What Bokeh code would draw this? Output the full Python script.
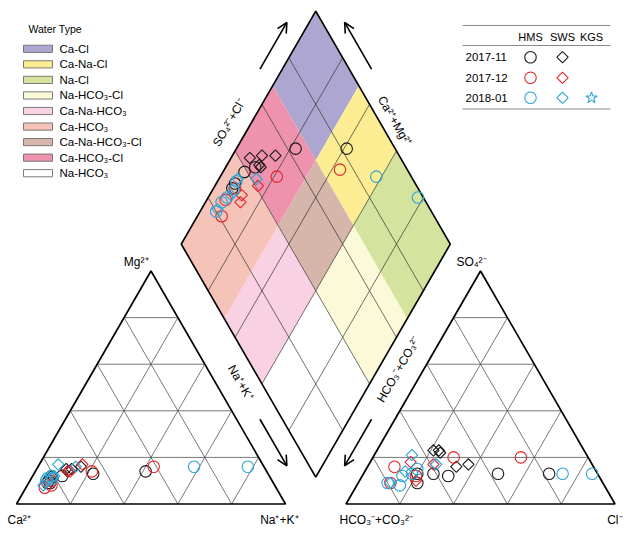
import math
from bokeh.plotting import figure
from bokeh.models import Range1d, Arrow, OpenHead, ColumnDataSource
from bokeh.core.properties import value
from bokeh.embed import file_html
from bokeh.resources import INLINE

FONT = "Liberation Sans"

# ---------------- data (meq %) ----------------
# cations: Ca, Mg, Na+K   anions: HCO3+CO3, SO4, Cl
# 2017-11 HMS
hms_1711_ca = [65, 45, 77, 83, 84, 83]
hms_1711_mg = [13, 14, 12, 9, 9, 10]
hms_1711_nak = [22, 41, 11, 8, 7, 7]
hms_1711_hco3 = [37, 18, 56, 61, 67, 69]
hms_1711_so4 = [13, 13, 12, 13, 13, 9]
hms_1711_cl = [50, 69, 32, 26, 20, 22]
# 2017-11 SWS
sws_1711_ca = [81, 74, 72, 68, 74]
sws_1711_mg = [12, 15, 15, 16, 14]
sws_1711_nak = [7, 11, 13, 16, 12]
sws_1711_hco3 = [56, 51, 54, 46, 54]
sws_1711_so4 = [23, 16, 22, 17, 23]
sws_1711_cl = [21, 33, 24, 37, 23]
# 2017-12 HMS
hms_1712_ca = [41, 65, 86, 83, 82]
hms_1712_mg = [16, 14, 7, 8, 10]
hms_1712_nak = [43, 21, 7, 9, 8]
hms_1712_hco3 = [25, 50, 74, 79, 68]
hms_1712_so4 = [20, 20, 16, 9, 12]
hms_1712_cl = [55, 30, 10, 12, 20]
# 2017-12 SWS
sws_1712_ca = [67, 74, 73]
sws_1712_mg = [17, 14, 14]
sws_1712_nak = [16, 12, 13]
sws_1712_hco3 = [59, 67, 69]
sws_1712_so4 = [17, 18, 10]
sws_1712_cl = [24, 15, 21]
# 2018-01 HMS
hms_1801_ca = [26, 6, 81, 81, 81, 83, 84]
hms_1801_mg = [16, 16, 12, 11, 12, 11, 10]
hms_1801_nak = [58, 78, 7, 8, 7, 6, 6]
hms_1801_hco3 = [13, 2, 66, 69, 73, 76, 80]
hms_1801_so4 = [13, 13, 15, 13, 12, 8, 9]
hms_1801_cl = [74, 85, 19, 18, 15, 16, 11]
# 2018-01 SWS
sws_1801_ca = [70, 76, 80, 86]
sws_1801_mg = [16, 17, 12, 8]
sws_1801_nak = [14, 7, 8, 6]
sws_1801_hco3 = [58, 65, 71, 79]
sws_1801_so4 = [17, 21, 14, 9]
sws_1801_cl = [25, 14, 15, 12]

water_types = ["Ca-Cl", "Ca-Na-Cl", "Na-Cl", "Na-HCO₃-Cl", "Ca-Na-HCO₃",
               "Ca-HCO₃", "Ca-Na-HCO₃-Cl", "Ca-HCO₃-Cl", "Na-HCO₃"]
water_colors = ["#ADA6D1", "#FCEC92", "#D4E39D", "#FBF9D7", "#F8D1E3",
                "#F5C3B8", "#D6B5AA", "#EF92AD", "#FFFFFF"]
# class limits in the diamond: (Ca+Mg) fraction and (SO4+Cl) fraction
cat_limits = [0.0, 0.4, 0.68, 1.0]
an_limits = [0.0, 0.4, 0.68, 1.0]
# (cation band index, anion band index) for each water type
water_cells = [(2, 2), (1, 2), (0, 2), (0, 1), (1, 0), (2, 0), (1, 1), (2, 1), (0, 0)]

periods = ["2017-11", "2017-12", "2018-01"]
sites = ["HMS", "SWS", "KGS"]
period_colors = ["#1a1a1a", "#E3242B", "#2AA6D6"]

# ---------------- geometry ----------------
H = math.sqrt(3) / 2
X0R = 1.225            # left corner of anion triangle
BX, BY = (1 + X0R) / 2, 0.1   # bottom vertex of diamond
DL = (BX - 0.5, BY + H)
DR = (BX + 0.5, BY + H)
DT = (BX, BY + 2 * H)
DB = (BX, BY)


def U(px):
    return (px - 16) / 269.0


def V(py):
    return (503.5 - py) / 269.0


def cat_xy(ca, mg, nak):
    t = ca + mg + nak
    m, n = mg / t, nak / t
    return n + m / 2, H * m


def an_xy(hco3, so4, cl):
    t = hco3 + so4 + cl
    s, c = so4 / t, cl / t
    return X0R + c + s / 2, H * s


def dia_xy(c, a):
    return BX + 0.5 * (a - c), BY + H * (a + c)


p = figure(width=630, height=533, output_backend="svg", toolbar_location=None,
           x_range=Range1d(U(0), U(630)), y_range=Range1d(V(533), V(0)),
           x_axis_type=None, y_axis_type=None, min_border=0,
           outline_line_color=None, background_fill_color="white")
p.grid.visible = False

# ---- diamond classes ----
xs, ys = [], []
for (ci, ai) in water_cells:
    c0, c1 = cat_limits[ci], cat_limits[ci + 1]
    a0, a1 = an_limits[ai], an_limits[ai + 1]
    pts = [dia_xy(c0, a0), dia_xy(c1, a0), dia_xy(c1, a1), dia_xy(c0, a1)]
    xs.append([q[0] for q in pts])
    ys.append([q[1] for q in pts])
p.patches(xs, ys, fill_color=water_colors, line_color=None)

# ---- grids ----
gx, gy = [], []
for k in [0.2, 0.4, 0.6, 0.8]:
    for x0 in [0.0, X0R]:
        gx += [[x0 + k / 2, x0 + 1 - k / 2], [x0 + k, x0 + k + (1 - k) / 2], [x0 + 1 - k, x0 + (1 - k) / 2]]
        gy += [[H * k, H * k], [0, H * (1 - k)], [0, H * (1 - k)]]
p.multi_line(gx, gy, line_color="#555555", line_width=0.8)
dx_, dy_ = [], []
for k in [0.2, 0.4, 0.6, 0.8]:
    a0, a1 = dia_xy(k, 0), dia_xy(k, 1)
    b0, b1 = dia_xy(0, k), dia_xy(1, k)
    dx_ += [[a0[0], a1[0]], [b0[0], b1[0]]]
    dy_ += [[a0[1], a1[1]], [b0[1], b1[1]]]
p.multi_line(dx_, dy_, line_color="#333333", line_width=0.7)

# outlines
p.patches([[0, 1, 0.5], [X0R, X0R + 1, X0R + 0.5], [DB[0], DR[0], DT[0], DL[0]]],
          [[0, 0, H], [0, 0, H], [DB[1], DR[1], DT[1], DL[1]]],
          fill_color=None, line_color="black", line_width=1.7)

# ---- samples ----
series = [
    (hms_1711_ca, hms_1711_mg, hms_1711_nak, hms_1711_hco3, hms_1711_so4, hms_1711_cl, 0, "circle"),
    (sws_1711_ca, sws_1711_mg, sws_1711_nak, sws_1711_hco3, sws_1711_so4, sws_1711_cl, 0, "square"),
    (hms_1712_ca, hms_1712_mg, hms_1712_nak, hms_1712_hco3, hms_1712_so4, hms_1712_cl, 1, "circle"),
    (sws_1712_ca, sws_1712_mg, sws_1712_nak, sws_1712_hco3, sws_1712_so4, sws_1712_cl, 1, "square"),
    (hms_1801_ca, hms_1801_mg, hms_1801_nak, hms_1801_hco3, hms_1801_so4, hms_1801_cl, 2, "circle"),
    (sws_1801_ca, sws_1801_mg, sws_1801_nak, sws_1801_hco3, sws_1801_so4, sws_1801_cl, 2, "square"),
]
for ca, mg, nak, hco3, so4, cl, pi, mk in series:
    X, Y = [], []
    for i in range(len(ca)):
        cx, cy = cat_xy(ca[i], mg[i], nak[i])
        ax, ay = an_xy(hco3[i], so4[i], cl[i])
        ct = (ca[i] + mg[i]) / (ca[i] + mg[i] + nak[i])
        at = (so4[i] + cl[i]) / (hco3[i] + so4[i] + cl[i])
        dxp, dyp = dia_xy(ct, at)
        X += [cx, ax, dxp]
        Y += [cy, ay, dyp]
    src = ColumnDataSource(dict(x=X, y=Y))
    if mk == "circle":
        p.scatter("x", "y", source=src, marker="circle", size=11.5, fill_color=None,
                  line_color=period_colors[pi], line_width=1.1)
    else:
        p.scatter("x", "y", source=src, marker="square", size=8, angle=math.pi / 4,
                  fill_color=None, line_color=period_colors[pi], line_width=1.1)


# ---- labels and arrows along diamond edges ----
def edge_point(P0, P1, t, off):
    ex, ey = P1[0] - P0[0], P1[1] - P0[1]
    ln = math.hypot(ex, ey)
    nx, ny = -ey / ln, ex / ln
    mx, my = P0[0] + t * ex, P0[1] + t * ey
    cx, cy = BX, BY + H
    if (mx - cx) * nx + (my - cy) * ny < 0:
        nx, ny = -nx, -ny
    return mx + off * nx, my + off * ny


edges = [(DL, DT, 0.48, 0.072, math.pi / 3, "SO₄²⁻+Cl⁻"),
         (DR, DT, 0.50, 0.050, -math.pi / 3, "Ca²⁺+Mg²⁺"),
         (DL, DB, 0.556, 0.066, -math.pi / 3, "Na⁺+K⁺"),
         (DR, DB, 0.50, 0.066, math.pi / 3, "HCO₃⁻+CO₃²⁻")]
for P0, P1, t, off, ang, lab in edges:
    lx, ly = edge_point(P0, P1, t, off)
    p.text([lx], [ly], text=[lab], angle=ang, text_align="center", text_baseline="middle",
           text_font=value(FONT), text_font_size="12px", text_color="black")
    s0 = edge_point(P0, P1, 0.71, 0.072)
    s1 = edge_point(P0, P1, 0.91, 0.072)
    p.add_layout(Arrow(end=OpenHead(size=10, line_width=1.6, line_color="black"),
                       x_start=s0[0], y_start=s0[1], x_end=s1[0], y_end=s1[1],
                       line_width=1.6, line_color="black"))

# corner labels
corner = [(U(148), V(261), "Mg²⁺", "right"), (U(471), V(261), "SO₄²⁻", "center"),
          (U(7), V(519.5), "Ca²⁺", "left"), (U(298), V(519.5), "Na⁺+K⁺", "right"),
          (U(339), V(519.5), "HCO₃⁻+CO₃²⁻", "left"), (U(622), V(519.5), "Cl⁻", "right")]
for x, y, t, al in corner:
    p.text([x], [y], text=[t], text_align=al, text_baseline="middle",
           text_font=value(FONT), text_font_size="12px", text_color="black")

# ---- water type legend ----
p.text([U(28)], [V(28)], text=["Water Type"], text_align="left", text_baseline="middle",
       text_font=value(FONT), text_font_size="10.5px", text_color="black")
for i, (wt, col) in enumerate(zip(water_types, water_colors)):
    yc = 48.3 + 15.55 * i
    p.quad(left=U(23), right=U(52), bottom=V(yc + 3.6), top=V(yc - 3.6),
           fill_color=col, line_color="#6d6d6d", line_width=0.9)
    p.text([U(59)], [V(yc)], text=[wt], text_align="left", text_baseline="middle",
           text_font=value(FONT), text_font_size="11.5px", text_color="black")

# ---- period / site table ----
for yy in [25, 45, 108.5]:
    p.segment(U(462), V(yy), U(610), V(yy), line_color="#8a8a8a", line_width=1.2)
for sx, st in zip([530, 562, 591], sites):
    p.text([U(sx)], [V(36)], text=[st], text_align="center", text_baseline="middle",
           text_font=value(FONT), text_font_size="11px", text_color="black")
for j, (per, col) in enumerate(zip(periods, period_colors)):
    yy = [56.7, 77.3, 97.3][j]
    p.text([U(465)], [V(yy)], text=[per], text_align="left", text_baseline="middle",
           text_font=value(FONT), text_font_size="11.5px", text_color="black")
    p.scatter([U(530)], [V(yy)], marker="circle", size=11.5, fill_color=None,
              line_color=col, line_width=1.1)
    p.scatter([U(562)], [V(yy)], marker="square", size=8, angle=math.pi / 4,
              fill_color=None, line_color=col, line_width=1.1)
    if per == "2018-01":
        p.scatter([U(591)], [V(yy)], marker="star", size=12, fill_color=None,
                  line_color=col, line_width=1.1)

open("out.html", "w").write(file_html(p, INLINE))
